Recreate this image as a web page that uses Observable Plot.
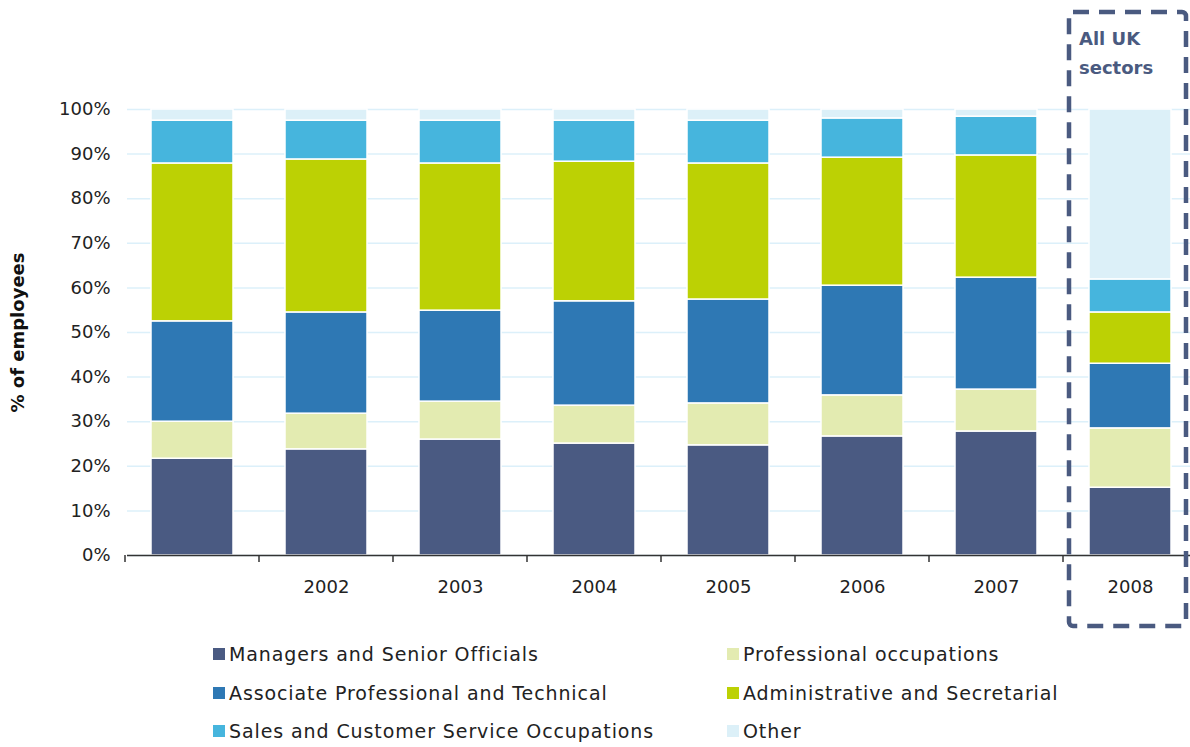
<!DOCTYPE html>
<html>
<head>
<meta charset="utf-8">
<script src="https://cdn.jsdelivr.net/npm/d3@7"></script>
<script src="https://cdn.jsdelivr.net/npm/@observablehq/plot@0.6"></script>
<style>
  body { margin: 0; background: #fff; font-family: "DejaVu Sans", sans-serif; }
  #chart { width: 1190px; }
  .legend { display: grid; grid-template-columns: 514px 420px; margin-left: 213px; row-gap: 0; }
  .legend div { height: 38.5px; display: flex; align-items: center; font-size: 19px; letter-spacing: 0.9px; color: #222; }
  .legend span.sw { display: inline-block; width: 12px; height: 12px; margin-right: 4px; }
</style>
</head>
<body>
<div id="chart"></div>
<script>
const years = ["", "2002", "2003", "2004", "2005", "2006", "2007", "2008"];
const occupations = [
  "Managers and Senior Officials",
  "Professional occupations",
  "Associate Professional and Technical",
  "Administrative and Secretarial",
  "Sales and Customer Service Occupations",
  "Other"
];
const colors = ["#4a5a82", "#e3ebb1", "#2e78b4", "#bcd104", "#46b5dd", "#dcf0f8"];
const managers     = [21.7, 23.8, 26.0, 25.1, 24.7, 26.7, 27.8, 15.2];
const professional = [8.3, 8.0, 8.5, 8.5, 9.4, 9.2, 9.4, 13.3];
const associate    = [22.5, 22.7, 20.4, 23.4, 23.3, 24.6, 25.1, 14.5];
const admin        = [35.4, 34.3, 33.0, 31.3, 30.5, 28.7, 27.4, 11.5];
const sales        = [9.6, 8.7, 9.6, 9.2, 9.6, 8.8, 8.7, 7.4];
const other        = [2.5, 2.5, 2.5, 2.5, 2.5, 2.0, 1.6, 38.1];
const yTicks = [0, 10, 20, 30, 40, 50, 60, 70, 80, 90, 100];
const boxLabel = ["All UK", "sectors"];

const series = [managers, professional, associate, admin, sales, other];
const data = [];
years.forEach((yr, i) => series.forEach((s, j) => data.push({year: yr, occ: occupations[j], value: s[i]})));

const plot = Plot.plot({
  width: 1190,
  height: 635,
  marginLeft: 127,
  marginRight: -5,
  marginTop: 109,
  marginBottom: 80,
  style: {fontFamily: "DejaVu Sans, sans-serif", fontSize: "18px", color: "#222", background: "#fff", overflow: "visible"},
  x: {domain: years, paddingInner: 0.39, paddingOuter: 0.17, label: null},
  y: {domain: [0, 100], label: null},
  color: {domain: occupations, range: colors},
  marks: [
    Plot.gridY(yTicks, {stroke: "#dcf0fa", strokeOpacity: 1, strokeWidth: 1.5}),
    Plot.barY(data, Plot.stackY({x: "year", y: "value", fill: "occ", order: occupations, stroke: "white", strokeWidth: 1.5})),
    Plot.axisY(yTicks, {tickSize: 0, tickPadding: 17, tickFormat: d => d + "%", fontSize: 18, label: null}),
    Plot.axisX({tickSize: 0, tickPadding: 25, fontSize: 18, label: null}),
    Plot.ruleY([0], {stroke: "#333", strokeWidth: 1.5}),
    Plot.text(["% of employees"], {frameAnchor: "left", textAnchor: "middle", rotate: -90, dx: -109, fontWeight: "bold", fontSize: 18, fill: "#111"})
  ]
});
document.getElementById("chart").appendChild(plot);

// band-boundary ticks and dashed box, positioned from Plot's own scales
const xs = plot.scale("x");
const ys = plot.scale("y");
const svg = d3.select(plot);
const gap = xs.step - xs.bandwidth;
const y0 = ys.apply(0);
years.forEach(v => {
  const bx = xs.apply(v) - gap / 2;
  svg.append("line").attr("x1", bx).attr("x2", bx).attr("y1", y0).attr("y2", y0 + 7)
    .attr("stroke", "#333").attr("stroke-width", 1.5);
});
const last = years[years.length - 1];
const bx0 = xs.apply(last) - 20;
const bx1 = Math.min(xs.apply(last) + xs.bandwidth + 19, 1186);
svg.append("rect").attr("x", bx0).attr("y", 12).attr("width", bx1 - bx0).attr("height", 614)
  .attr("rx", 4).attr("fill", "none").attr("stroke", "#4a5a80").attr("stroke-width", 4.5)
  .attr("stroke-dasharray", "16 10");
boxLabel.forEach((t, i) => {
  svg.append("text").attr("x", bx0 + 10).attr("y", 45 + i * 29).text(t)
    .attr("text-anchor", "start")
    .attr("font-weight", "bold").attr("font-size", 18).attr("fill", "#4a5a80")
    .attr("font-family", "DejaVu Sans, sans-serif");
});

const legend = d3.select("body").append("div").attr("class", "legend");
occupations.forEach((o, i) => {
  const d = legend.append("div");
  d.append("span").attr("class", "sw").style("background", colors[i]);
  d.append("span").text(o);
});
</script>
</body>
</html>
